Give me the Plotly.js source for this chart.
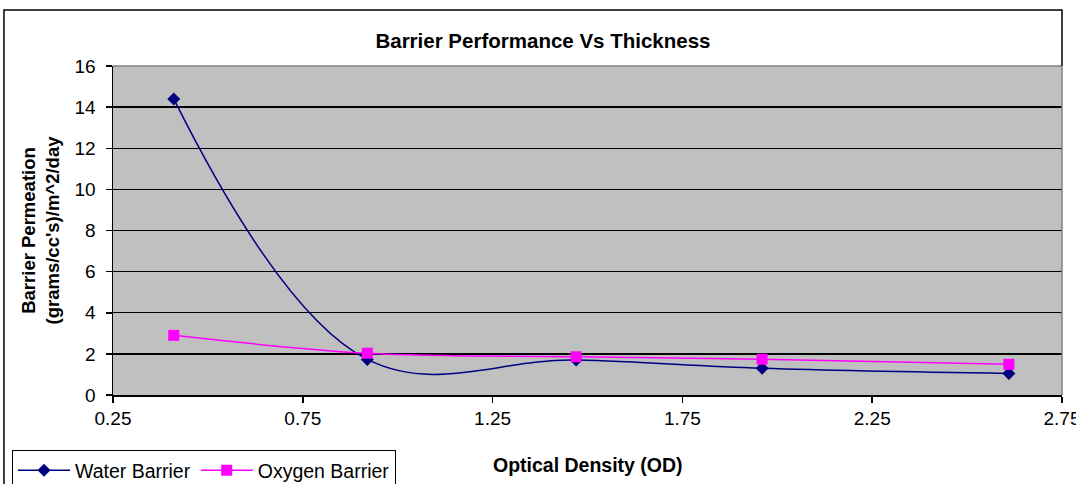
<!DOCTYPE html>
<html>
<head>
<meta charset="utf-8">
<script src="https://cdn.plot.ly/plotly-3.0.1.min.js"></script>
<style>html,body{margin:0;padding:0;background:#fff;}#chart{width:1076px;height:484px;}</style>
</head>
<body>
<div id="chart"></div>
<script>
// Data
const opticalDensity = [0.41, 0.92, 1.47, 1.96, 2.61];
const waterBarrier   = [14.4, 1.73, 1.70, 1.30, 1.05];
const oxygenBarrier  = [2.90, 2.03, 1.86, 1.74, 1.49];
const xTicks = [0.25, 0.75, 1.25, 1.75, 2.25, 2.75];
const xTickLabels = ["0.25", "0.75", "1.25", "1.75", "2.25", "2.75"];
const yTicks = [0, 2, 4, 6, 8, 10, 12, 14, 16];
const xAxisTitle = "Optical Density (OD)";

const FONT = "Arial, 'Liberation Sans', sans-serif";

const traces = [
  {
    x: opticalDensity, y: waterBarrier, name: "Water Barrier",
    type: "scatter", mode: "lines+markers",
    line: {color: "#000080", width: 1.5, shape: "spline", smoothing: 1.1},
    marker: {symbol: "diamond", size: 10, color: "#000080"}
  },
  {
    x: opticalDensity, y: oxygenBarrier, name: "Oxygen Barrier",
    type: "scatter", mode: "lines+markers",
    line: {color: "#FF00FF", width: 1.5, shape: "spline", smoothing: 1},
    marker: {symbol: "square", size: 11, color: "#FF00FF"}
  }
];

const layout = {
  width: 1076, height: 484,
  margin: {l: 113, r: 14, t: 66, b: 89},
  paper_bgcolor: "#ffffff",
  plot_bgcolor: "#C0C0C0",
  font: {family: FONT, size: 19, color: "#000"},
  title: {
    text: "<b>Barrier Performance Vs Thickness</b>",
    font: {family: FONT, size: 20.5, color: "#000"},
    x: 0.5046, xref: "container", xanchor: "center",
    y: 0.9153, yref: "container", yanchor: "middle"
  },
  xaxis: {
    range: [0.25, 2.75],
    tickmode: "array", tickvals: xTicks, ticktext: xTickLabels,
    ticks: "outside", ticklen: 6, tickcolor: "#000", tickwidth: 1.5,
    ticklabeloverflow: "allow",
    showline: true, linecolor: "#000", linewidth: 1.5,
    showgrid: false, zeroline: false,
    tickfont: {family: FONT, size: 19, color: "#000"}
  },
  yaxis: {
    range: [0, 16],
    tickmode: "array", tickvals: yTicks,
    ticks: "outside", ticklen: 6, tickcolor: "#000", tickwidth: 1.5,
    ticklabelstandoff: 6,
    showline: true, linecolor: "#000", linewidth: 1.5,
    showgrid: true, gridcolor: "#000", gridwidth: 1.3,
    zeroline: false,
    tickfont: {family: FONT, size: 19, color: "#000"},
    title: {text: "<b>Barrier Permeation<br>(grams/cc's)/m^2/day</b>", font: {family: FONT, size: 18.5, color: "#000"}, standoff: 10}
  },
  annotations: [
    {text: "<b>" + xAxisTitle + "</b>", xref: "paper", x: 0.5, xanchor: "center",
     yref: "paper", y: -0.2128, yanchor: "middle", showarrow: false,
     font: {family: FONT, size: 19.5, color: "#000"}}
  ],
  showlegend: true,
  legend: {
    orientation: "h",
    xref: "container", x: 0.01115, xanchor: "left",
    yref: "container", y: 0.0702, yanchor: "top",
    bordercolor: "#000", borderwidth: 1, bgcolor: "#fff",
    font: {family: FONT, size: 19.5, color: "#000"},
    itemwidth: 52,
    traceorder: "normal"
  },
  shapes: [
    // plot-area border (top and right) in gray
    {type: "line", xref: "paper", yref: "paper", x0: 0, x1: 1, y0: 1, y1: 1, line: {color: "#808080", width: 1.5}, layer: "above"},
    {type: "line", xref: "paper", yref: "paper", x0: 1, x1: 1, y0: 0, y1: 1, line: {color: "#808080", width: 1.5}, layer: "above"},
    // outer chart frame
    {type: "path", xref: "paper", yref: "paper",
     path: "M -0.1149,-0.3 L -0.1149,1.1702 L 1.0,1.1702 L 1.0,1.0",
     line: {color: "#000", width: 1.5}, layer: "above"}
  ]
};

Plotly.newPlot("chart", traces, layout, {displayModeBar: false, staticPlot: true});
</script>
</body>
</html>
